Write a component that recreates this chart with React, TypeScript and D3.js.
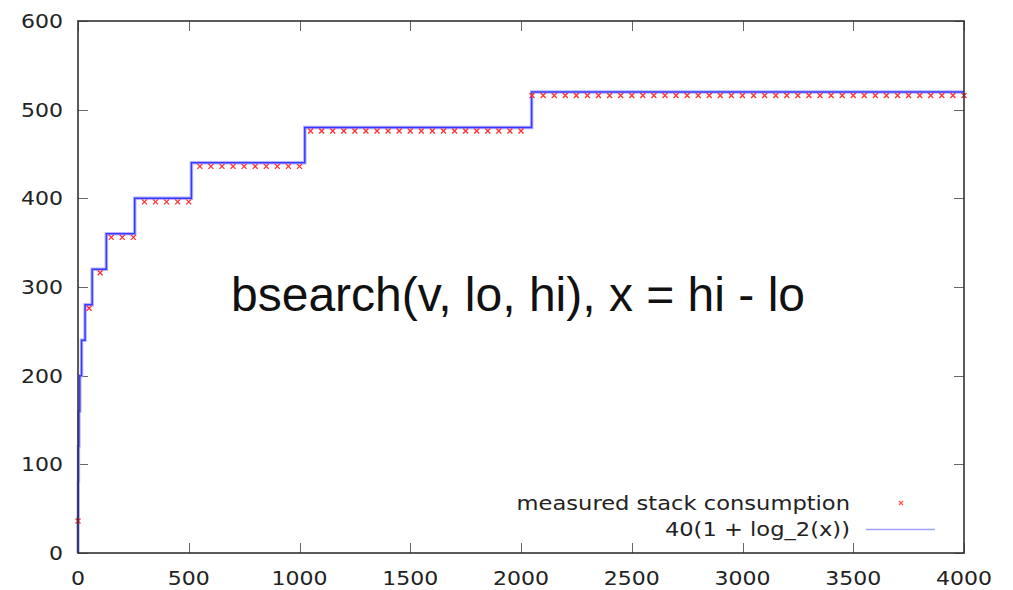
import React, { useRef, useEffect } from "react";
import * as d3 from "d3";

// step function 40(1 + log_2(x)) as drawn
const stepX = [0, 0, 1, 2, 4, 8, 16, 32, 64, 128, 256, 512, 1024, 2048, 4000];
const stepY = [0, 40, 80, 120, 160, 200, 240, 280, 320, 360, 400, 440, 480, 520, 520];

// measured stack consumption
const measuredX = [
  0, 50, 100, 150, 200, 250, 300, 350, 400, 450, 500, 550, 600, 650, 700, 750,
  800, 850, 900, 950, 1000, 1050, 1100, 1150, 1200, 1250, 1300, 1350, 1400,
  1450, 1500, 1550, 1600, 1650, 1700, 1750, 1800, 1850, 1900, 1950, 2000, 2050,
  2100, 2150, 2200, 2250, 2300, 2350, 2400, 2450, 2500, 2550, 2600, 2650, 2700,
  2750, 2800, 2850, 2900, 2950, 3000, 3050, 3100, 3150, 3200, 3250, 3300, 3350,
  3400, 3450, 3500, 3550, 3600, 3650, 3700, 3750, 3800, 3850, 3900, 3950, 4000,
];
const measuredY = [
  36, 276, 316, 356, 356, 356, 396, 396, 396, 396, 396, 436, 436, 436, 436, 436,
  436, 436, 436, 436, 436, 476, 476, 476, 476, 476, 476, 476, 476, 476, 476,
  476, 476, 476, 476, 476, 476, 476, 476, 476, 476, 516, 516, 516, 516, 516,
  516, 516, 516, 516, 516, 516, 516, 516, 516, 516, 516, 516, 516, 516, 516,
  516, 516, 516, 516, 516, 516, 516, 516, 516, 516, 516, 516, 516, 516, 516,
  516, 516, 516, 516, 516, 516,
];

const xTicks = [0, 500, 1000, 1500, 2000, 2500, 3000, 3500, 4000];
const yTicks = [0, 100, 200, 300, 400, 500, 600];

const legendLabels = ["measured stack consumption", "40(1 + log_2(x))"];
const title = "bsearch(v, lo, hi), x = hi - lo";

function App() {
  const ref = useRef<SVGSVGElement>(null);

  useEffect(() => {
    const [width, height] = [1013, 590];
    const m = { left: 78, right: 964, top: 21, bottom: 553 };
    const svg = d3.select(ref.current);
    svg.selectAll("*").remove();

    const x = d3.scaleLinear().domain([0, 4000]).range([m.left, m.right]);
    const y = d3.scaleLinear().domain([0, 600]).range([m.bottom, m.top]);

    const font = "DejaVu Sans, sans-serif";
    const sx = 1.1;
    const tickLen = 10;

    // ticks (inward, mirrored)
    const ticks = svg.append("g").attr("stroke", "#666").attr("stroke-width", 1);
    xTicks.forEach((t) => {
      const px = Math.round(x(t)) + 0.5;
      ticks.append("line").attr("x1", px).attr("x2", px).attr("y1", m.bottom).attr("y2", m.bottom - tickLen);
      ticks.append("line").attr("x1", px).attr("x2", px).attr("y1", m.top).attr("y2", m.top + tickLen);
    });
    yTicks.forEach((t) => {
      const py = Math.round(y(t)) + 0.5;
      ticks.append("line").attr("x1", m.left).attr("x2", m.left + tickLen).attr("y1", py).attr("y2", py);
      ticks.append("line").attr("x1", m.right).attr("x2", m.right - tickLen).attr("y1", py).attr("y2", py);
    });

    // tick labels
    const labels = svg.append("g").attr("font-family", font).attr("font-size", 20).attr("fill", "#222");
    xTicks.forEach((t) => {
      labels
        .append("text")
        .attr("transform", `translate(${x(t)},${m.bottom + 32}) scale(${sx},1)`)
        .attr("text-anchor", "middle")
        .text(t);
    });
    yTicks.forEach((t) => {
      labels
        .append("text")
        .attr("transform", `translate(${m.left - 15},${y(t) + 7}) scale(${sx},1)`)
        .attr("text-anchor", "end")
        .text(t);
    });

    // step line
    const line = d3
      .line<number>()
      .x((d) => x(stepX[d]))
      .y((d) => y(stepY[d]))
      .curve(d3.curveStepAfter);
    const idx = d3.range(stepX.length);
    svg.append("path").attr("d", line(idx)).attr("fill", "none").attr("stroke", "#b4b4ff").attr("stroke-width", 3.5);
    svg.append("path").attr("d", line(idx)).attr("fill", "none").attr("stroke", "#3a3aff").attr("stroke-width", 1.5);

    // markers
    const cross = "M-2.5,-2.5L2.5,2.5M-2.5,2.5L2.5,-2.5";
    svg
      .append("g")
      .selectAll("path")
      .data(measuredX)
      .join("path")
      .attr("transform", (d, i) => `translate(${x(d)},${y(measuredY[i])})`)
      .attr("d", cross)
      .attr("fill", "none")
      .attr("stroke", "#ff3030")
      .attr("stroke-width", 1.3);

    // frame
    svg
      .append("rect")
      .attr("x", m.left)
      .attr("y", m.top)
      .attr("width", m.right - m.left)
      .attr("height", m.bottom - m.top)
      .attr("fill", "none")
      .attr("stroke", "#333")
      .attr("stroke-width", 1.6);

    // legend
    const lsx = 1.13;
    const lg = svg.append("g").attr("font-family", font).attr("font-size", 20).attr("fill", "#222");
    lg.append("text")
      .attr("transform", `translate(850,510) scale(${lsx},1)`)
      .attr("text-anchor", "end")
      .text(legendLabels[0]);
    lg.append("text")
      .attr("transform", `translate(850,536) scale(${lsx},1)`)
      .attr("text-anchor", "end")
      .text(legendLabels[1]);
    lg.append("path")
      .attr("transform", "translate(901,503)")
      .attr("d", "M-2,-2L2,2M-2,2L2,-2")
      .attr("stroke", "#ff5050")
      .attr("stroke-width", 1.2);
    lg.append("line")
      .attr("x1", 866)
      .attr("x2", 935)
      .attr("y1", 529.5)
      .attr("y2", 529.5)
      .attr("stroke", "#a0a0ff")
      .attr("stroke-width", 1.5);

    // title
    svg
      .append("text")
      .attr("x", 518)
      .attr("y", 311)
      .attr("text-anchor", "middle")
      .attr("font-family", "Liberation Sans, Arial, sans-serif")
      .attr("font-size", 48)
      .attr("fill", "#111")
      .text(title);

    svg.attr("width", width).attr("height", height);
  }, []);

  return (
    <svg
      ref={ref}
      width={1013}
      height={590}
      style={{ position: "absolute", left: 0, top: 0, background: "#fff" }}
    />
  );
}

export default App;
